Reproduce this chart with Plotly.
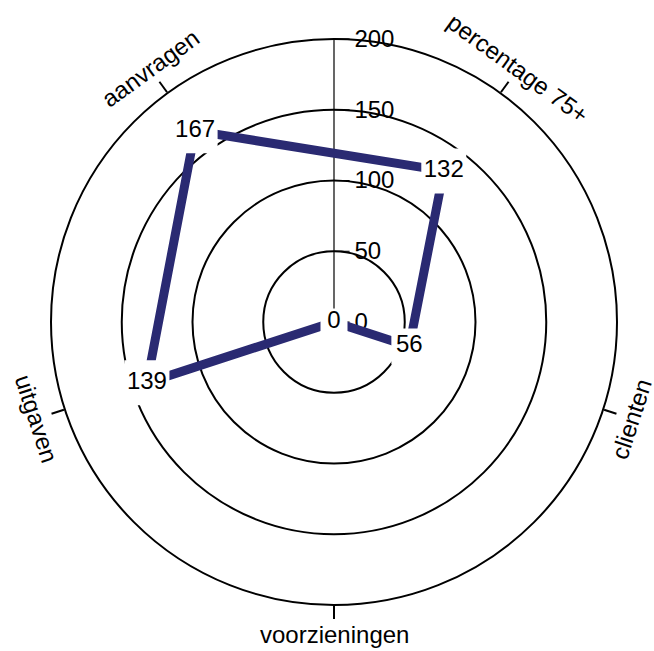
import math
import plotly.graph_objects as go

categories = ["percentage 75+", "clienten", "voorzieningen", "uitgaven", "aanvragen"]
values = [132, 56, 0, 139, 167]
radial_ticks = [0, 50, 100, 150, 200]
value_labels = [str(v) for v in values]

LINE_COLOR = "#2a2a72"
FONT = "Liberation Sans, Arial, sans-serif"
ROTATION = 54

fig = go.Figure()

# closed polygon line
fig.add_trace(go.Scatterpolar(
    r=values + [values[0]],
    theta=categories + [categories[0]],
    mode="lines",
    line=dict(color=LINE_COLOR, width=9),
    hoverinfo="skip",
    showlegend=False,
))

# labels with white background squares
sizes = [18 + 9 * len(t) for t in value_labels]
fig.add_trace(go.Scatterpolar(
    r=values,
    theta=categories,
    mode="markers+text",
    text=value_labels,
    textposition="middle center",
    textfont=dict(family=FONT, size=24, color="black"),
    marker=dict(symbol="square", size=sizes, color="white", opacity=1,
                line=dict(width=0)),
    cliponaxis=False,
    showlegend=False,
))

# angular labels as rotated annotations (tangential)
annotations = []
n = len(categories)
R = 0.553
for i, cat in enumerate(categories):
    ang = ROTATION - 360.0 * i / n
    a = math.radians(ang)
    x = 0.5 + R * math.cos(a)
    y = 0.5 + R * math.sin(a)
    rot = (90 - ang) % 360
    if rot > 180:
        rot -= 360
    if rot > 90:
        rot -= 180
    elif rot < -90:
        rot += 180
    annotations.append(dict(
        x=x, y=y, xref="paper", yref="paper", text=cat, showarrow=False,
        textangle=rot, xanchor="center", yanchor="middle",
        font=dict(family=FONT, size=24, color="black"),
    ))

fig.update_layout(
    width=654, height=651,
    margin=dict(l=51, r=37, t=39, b=46),
    paper_bgcolor="white",
    plot_bgcolor="white",
    showlegend=False,
    font=dict(family=FONT, size=24, color="black"),
    annotations=annotations,
    polar=dict(
        bgcolor="white",
        domain=dict(x=[0, 1], y=[0, 1]),
        angularaxis=dict(
            type="category",
            categoryarray=categories,
            direction="clockwise",
            rotation=ROTATION,
            showgrid=False,
            showline=True,
            linecolor="black",
            linewidth=2,
            ticks="outside",
            ticklen=13,
            tickwidth=2,
            tickcolor="black",
            showticklabels=False,
            layer="below traces",
        ),
        radialaxis=dict(
            range=[0, 200],
            tickvals=radial_ticks,
            ticktext=[str(t) for t in radial_ticks],
            angle=90,
            tickangle=90,
            showgrid=True,
            gridcolor="black",
            gridwidth=1.5,
            showline=True,
            linecolor="black",
            linewidth=1.2,
            ticks="outside",
            ticklen=15,
            tickwidth=1.2,
            tickcolor="black",
            tickfont=dict(family=FONT, size=24, color="black"),
            layer="below traces",
        ),
    ),
)

fig.write_html(
    "out.html",
    config={"displayModeBar": False},
    post_script="document.body.style.margin='0';document.body.style.overflow='hidden';",
)
